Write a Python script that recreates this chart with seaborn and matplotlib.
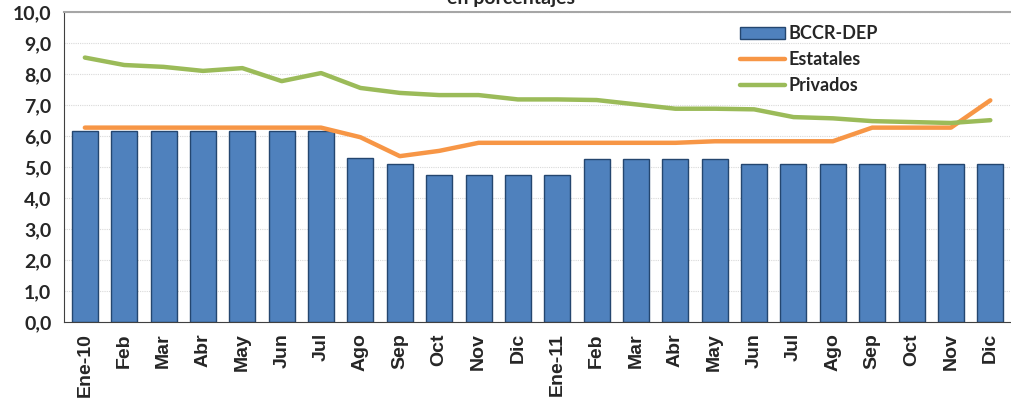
import numpy as np
import pandas as pd
import seaborn as sns
import matplotlib.pyplot as plt
from matplotlib.patches import Patch
from matplotlib.lines import Line2D

# Datos (porcentajes)
meses = ["Ene-10", "Feb", "Mar", "Abr", "May", "Jun", "Jul", "Ago", "Sep", "Oct", "Nov", "Dic",
         "Ene-11", "Feb", "Mar", "Abr", "May", "Jun", "Jul", "Ago", "Sep", "Oct", "Nov", "Dic"]
bccr_dep = [6.15, 6.15, 6.15, 6.15, 6.15, 6.15, 6.15, 5.3, 5.1, 4.75, 4.75, 4.75,
            4.75, 5.25, 5.25, 5.25, 5.25, 5.1, 5.1, 5.1, 5.1, 5.1, 5.1, 5.1]
estatales = [6.27, 6.27, 6.27, 6.27, 6.27, 6.27, 6.27, 5.96, 5.35, 5.52, 5.78, 5.78,
             5.78, 5.78, 5.78, 5.78, 5.83, 5.83, 5.83, 5.83, 6.27, 6.27, 6.27, 7.15]
privados = [8.53, 8.29, 8.23, 8.1, 8.19, 7.77, 8.03, 7.55, 7.39, 7.32, 7.32, 7.18,
            7.18, 7.16, 7.02, 6.88, 6.88, 6.86, 6.61, 6.57, 6.48, 6.45, 6.42, 6.51]

df = pd.DataFrame({"pos": np.arange(len(meses)), "mes": meses, "BCCR-DEP": bccr_dep,
                   "Estatales": estatales, "Privados": privados})

sns.set_style("white")
plt.rcParams['font.family'] = ['Lato', 'DejaVu Sans']

fig = plt.figure(figsize=(10.12, 4.01), dpi=100)
ax = fig.add_axes([64 / 1012, 79 / 401, 946 / 1012, 310 / 401])

azul = "#4F81BD"
naranja = "#F79646"
verde = "#9BBB59"

sns.barplot(data=df, x="pos", y="BCCR-DEP", color=azul, saturation=1, width=0.66,
            edgecolor="#24466F", linewidth=1.0, ax=ax, zorder=2)
sns.lineplot(data=df, x="pos", y="Estatales", color=naranja, linewidth=3.2, ax=ax, zorder=3)
sns.lineplot(data=df, x="pos", y="Privados", color=verde, linewidth=3.2, ax=ax, zorder=3)

ax.set_xlim(-0.53, 23.33)
ax.set_ylim(0, 10)
ax.set_yticks(np.arange(0, 11, 1))
ax.set_yticklabels([f"{v:.1f}".replace(".", ",") for v in range(0, 11)],
                   fontsize=14, fontweight="bold")
ax.set_xticks(np.arange(len(meses)))
ax.set_xticklabels(meses, rotation=90, fontsize=14, fontweight="bold", family="Liberation Sans")
ax.set_xticks(np.arange(len(meses) + 1) - 0.5, minor=True)
ax.tick_params(axis="x", which="major", length=0, pad=8)
ax.tick_params(axis="x", which="minor", length=5, width=1, color="#404040")
ax.tick_params(axis="y", length=5, width=1, color="#404040", pad=4)
ax.set_xlabel("")
ax.set_ylabel("")

ax.grid(axis="y", color="#d9d9d9", linewidth=0.8, linestyle=(0, (1, 1)), zorder=0)
ax.set_axisbelow(True)
ax.spines["right"].set_visible(False)
ax.spines["top"].set_color("#a6a6a6")
ax.spines["top"].set_linewidth(1.5)
ax.spines["left"].set_color("#404040")
ax.spines["bottom"].set_color("#404040")

handles = [Patch(facecolor=azul, edgecolor="#24466F"),
           Line2D([], [], color=naranja, linewidth=3.2),
           Line2D([], [], color=verde, linewidth=3.2)]
ax.legend(handles, ["BCCR-DEP", "Estatales", "Privados"], loc="upper left",
          bbox_to_anchor=(0.697, 1.01), frameon=False, handlelength=2.5, handletextpad=0.2,
          labelspacing=0.5, prop={"weight": "bold", "size": 13})

# Título recortado en la parte superior
fig.text(0.505, 1 - 4 / 401, "en porcentajes", ha="center", va="baseline",
         fontsize=14, fontweight="bold")

plt.savefig("out.png", dpi=100)
